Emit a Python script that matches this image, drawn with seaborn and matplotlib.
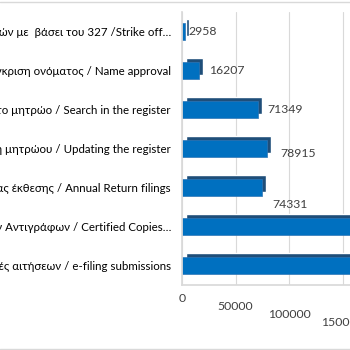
import matplotlib
matplotlib.use("Agg")
import matplotlib.pyplot as plt
import matplotlib.transforms as mtransforms
from matplotlib.lines import Line2D
import seaborn as sns
import pandas as pd

# Services and yearly request counts
services = [
    "Διαγραφή εταιρειών με  βάσει του 327 /Strike off…",
    "Έγκριση ονόματος / Name approval",
    "Έρευνα στο μητρώο / Search in the register",
    "Ενημέρωση μητρώου / Updating the register",
    "Καταχώριση ετήσιας έκθεσης / Annual Return filings",
    "Έκδοση Πιστοποιημένων Αντιγράφων / Certified Copies…",
    "Ηλεκτρονικές υποβολές αιτήσεων / e-filing submissions",
]
requests = [2958, 16207, 71349, 78915, 74331, 205000, 215000]
x_ticks = [0, 50000, 100000, 150000, 200000, 250000]

df = pd.DataFrame({"service": services, "requests": requests})

sns.set_theme(style="white")
plt.rcParams["font.family"] = ["Lato", "Open Sans", "DejaVu Sans"]
text_color = "#404040"

fig = plt.figure(figsize=(3.5, 3.5), dpi=100)
ax = fig.add_axes([182 / 350, 1 - 285 / 350, 268 / 350, 273 / 350])

# depth face of each bar (offset copy drawn behind)
sns.barplot(data=df, x="requests", y="service", color="#1F4E79",
            width=0.42, saturation=1, ax=ax)
depth = mtransforms.ScaledTranslation(4 / 100, 4 / 100, fig.dpi_scale_trans)
for p in ax.patches:
    p.set_transform(ax.transData + depth)
n_back = len(ax.patches)

# front face
sns.barplot(data=df, x="requests", y="service", color="#0070C0",
            width=0.42, saturation=1, ax=ax)
for p in ax.patches[n_back:]:
    p.set_edgecolor("#2E75B6")
    p.set_linewidth(0.5)

ax.set_xlim(0, 250000)
ax.set_ylim(len(services) - 0.5, -0.5)
ax.set_xticks(x_ticks)
ax.set_xticklabels([str(v) for v in x_ticks])
ax.xaxis.grid(True, color="#D9D9D9", linewidth=0.8)
ax.set_axisbelow(True)
for side in ["top", "right"]:
    ax.spines[side].set_visible(False)
ax.spines["bottom"].set_color("#D9D9D9")
ax.spines["left"].set_color("#D9D9D9")
ax.set_xlabel("")
ax.set_ylabel("")
ax.tick_params(axis="y", length=0, pad=8, labelsize=8.3, labelcolor="#000000")
ax.tick_params(axis="x", length=0, pad=6, labelsize=8.8, labelcolor=text_color)

# staggered x tick labels following the sloped floor
for i, lab in enumerate(ax.get_xticklabels()):
    shift = mtransforms.ScaledTranslation(0, -i * 8 / 100, fig.dpi_scale_trans)
    lab.set_transform(lab.get_transform() + shift)

# value labels
label_dy = [0, 0, 0, -5, -17, 0, 0]
label_dx = [3, 10, 9, 14, 11, 10, 10]
for i, v in enumerate(requests):
    ax.annotate(f"{v}", xy=(v, i), xytext=(label_dx[i] * 0.72, label_dy[i] * 0.72),
                textcoords="offset points", va="center", ha="left",
                fontsize=8.8, color=text_color, annotation_clip=False)

# chart area border lines
for yf in (1 - 1.5 / 350, 1.5 / 350):
    fig.add_artist(Line2D([0, 1], [yf, yf], transform=fig.transFigure,
                          color="#D9D9D9", linewidth=1))

fig.savefig("out.png", dpi=100)
